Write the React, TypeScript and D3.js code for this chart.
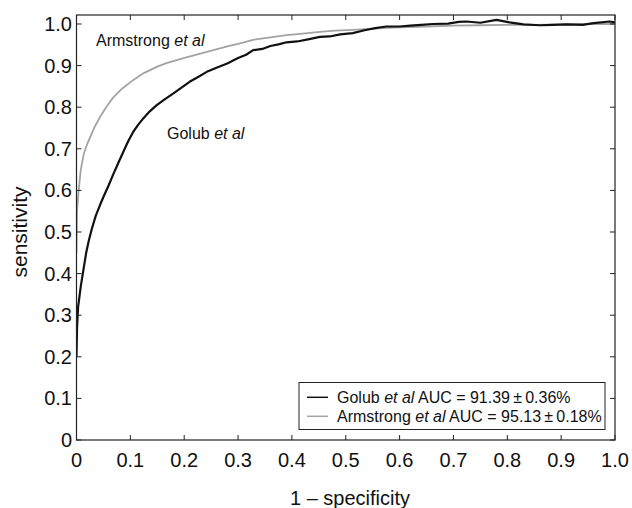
import React from "react";
import * as d3 from "d3";

const golubFpr = [0, 0.001, 0.003, 0.008, 0.013, 0.018, 0.023, 0.029, 0.036, 0.044, 0.051, 0.06, 0.068, 0.078, 0.087, 0.096, 0.105, 0.114, 0.124, 0.136, 0.149, 0.165, 0.18, 0.195, 0.21, 0.225, 0.242, 0.26, 0.28, 0.30, 0.315, 0.328, 0.345, 0.36, 0.375, 0.39, 0.41, 0.43, 0.452, 0.47, 0.49, 0.513, 0.535, 0.555, 0.575, 0.60, 0.62, 0.64, 0.662, 0.69, 0.71, 0.724, 0.75, 0.78, 0.804, 0.83, 0.86, 0.885, 0.91, 0.94, 0.96, 0.99, 1.0];
const golubTpr = [0.20, 0.27, 0.32, 0.37, 0.41, 0.45, 0.48, 0.51, 0.54, 0.566, 0.587, 0.613, 0.638, 0.667, 0.693, 0.718, 0.74, 0.757, 0.773, 0.79, 0.805, 0.82, 0.833, 0.847, 0.861, 0.872, 0.885, 0.895, 0.905, 0.918, 0.926, 0.937, 0.940, 0.947, 0.951, 0.956, 0.958, 0.963, 0.969, 0.970, 0.975, 0.978, 0.985, 0.990, 0.994, 0.994, 0.996, 0.998, 1.0, 1.001, 1.005, 1.006, 1.003, 1.01, 1.004, 0.999, 0.997, 0.998, 0.999, 0.998, 1.002, 1.006, 1.004];

const armstrongFpr = [0, 0.001, 0.004, 0.008, 0.014, 0.02, 0.027, 0.035, 0.044, 0.055, 0.068, 0.085, 0.105, 0.125, 0.149, 0.167, 0.186, 0.204, 0.23, 0.254, 0.282, 0.30, 0.328, 0.36, 0.39, 0.42, 0.452, 0.48, 0.513, 0.55, 0.60, 0.65, 0.70, 0.75, 0.80, 0.85, 0.90, 0.95, 1.0];
const armstrongTpr = [0.45, 0.55, 0.60, 0.65, 0.69, 0.712, 0.733, 0.756, 0.777, 0.80, 0.823, 0.845, 0.865, 0.882, 0.897, 0.906, 0.913, 0.92, 0.929, 0.937, 0.947, 0.952, 0.962, 0.968, 0.973, 0.977, 0.981, 0.984, 0.986, 0.989, 0.992, 0.994, 0.996, 0.997, 0.998, 0.998, 0.999, 1.0, 1.0];

const tickValues = [0, 0.1, 0.2, 0.3, 0.4, 0.5, 0.6, 0.7, 0.8, 0.9, 1.0];
const tickLabels = ["0", "0.1", "0.2", "0.3", "0.4", "0.5", "0.6", "0.7", "0.8", "0.9", "1.0"];

const FONT = "'Liberation Sans', Arial, Helvetica, sans-serif";
const GRAY = "#a3a3a3";

export default function App() {
  const L = 76.5, R = 615, T = 15, B = 440;
  const x = d3.scaleLinear().domain([0, 1]).range([L, R]);
  const y = d3.scaleLinear().domain([0, 1.0216]).range([B, T]);
  const line = d3.line<[number, number]>().x((d) => x(d[0])).y((d) => y(d[1]));
  const golub = golubFpr.map((f, i) => [f, golubTpr[i]] as [number, number]);
  const arm = armstrongFpr.map((f, i) => [f, armstrongTpr[i]] as [number, number]);
  const tk = 5;

  return (
    <svg width={632} height={508} style={{ position: "absolute", left: 0, top: 0, background: "#fff" }} fontFamily={FONT}>
      <rect x={0} y={0} width={632} height={508} fill="#fff" />
      <defs>
        <clipPath id="plot">
          <rect x={L} y={T} width={R - L} height={B - T} />
        </clipPath>
      </defs>
      <g clipPath="url(#plot)">
        <path d={line(arm) || ""} fill="none" stroke={GRAY} strokeWidth={1.8} strokeLinejoin="round" />
        <path d={line(golub) || ""} fill="none" stroke="#111" strokeWidth={2.2} strokeLinejoin="round" />
      </g>
      <rect x={L} y={T} width={R - L} height={B - T} fill="none" stroke="#222" strokeWidth={1.2} />
      {tickValues.map((v, i) => (
        <g key={"t" + i}>
          <line x1={x(v)} x2={x(v)} y1={B} y2={B - tk} stroke="#222" />
          <line x1={x(v)} x2={x(v)} y1={T} y2={T + tk} stroke="#222" />
          <line x1={L} x2={L + tk} y1={y(v)} y2={y(v)} stroke="#222" />
          <line x1={R} x2={R - tk} y1={y(v)} y2={y(v)} stroke="#222" />
          <text x={x(v)} y={467} textAnchor="middle" fontSize={20} fill="#111">{tickLabels[i]}</text>
          <text x={72} y={y(v) + 7} textAnchor="end" fontSize={20} fill="#111">{tickLabels[i]}</text>
        </g>
      ))}
      <text x={350} y={505} textAnchor="middle" fontSize={20} fill="#111">1 – specificity</text>
      <text transform="translate(27,232) rotate(-90)" textAnchor="middle" fontSize={21} fill="#111">sensitivity</text>
      <text x={96} y={46} fontSize={16} fill="#111">Armstrong <tspan fontStyle="italic">et al</tspan></text>
      <text x={167} y={139} fontSize={16} fill="#111">Golub <tspan fontStyle="italic">et al</tspan></text>
      <rect x={299} y={382.5} width={306} height={47} fill="#fff" stroke="#222" strokeWidth={1} />
      <line x1={307} x2={328} y1={397.3} y2={397.3} stroke="#111" strokeWidth={1.5} />
      <line x1={307} x2={328} y1={416.3} y2={416.3} stroke={GRAY} strokeWidth={1.5} />
      <text x={337} y={403} fontSize={16} fill="#111">Golub <tspan fontStyle="italic">et al</tspan> AUC = 91.39{"\u2009"}±{"\u2009"}0.36%</text>
      <text x={337} y={422} fontSize={16} fill="#111">Armstrong <tspan fontStyle="italic">et al</tspan> AUC = 95.13{"\u2009"}±{"\u2009"}0.18%</text>
    </svg>
  );
}
